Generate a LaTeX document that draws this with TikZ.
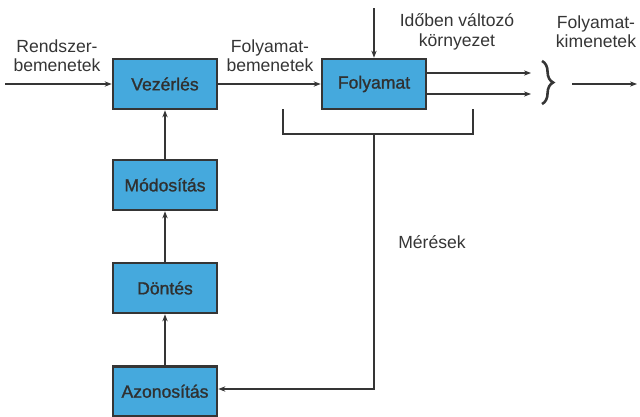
\documentclass[tikz,border=0pt]{standalone}
\usepackage{fontspec}
\setmainfont{Liberation Sans}
\newfontfamily\boxfont[FakeBold=1.2]{Liberation Sans}
\usetikzlibrary{arrows.meta,decorations.pathreplacing}
\definecolor{boxblue}{HTML}{45A9DD}
\definecolor{ink}{HTML}{353535}
\begin{document}
\begin{tikzpicture}[x=0.03cm,y=-0.03cm,
  blk/.style={draw=ink,line width=2.2pt,fill=boxblue,minimum width=3.12cm,minimum height=1.5cm,inner sep=0pt,font=\boxfont\fontsize{15}{17}\selectfont,text=ink!90!black},
  lbl/.style={align=center,font=\fontsize{15}{16.5}\selectfont,text=ink,inner sep=0pt},
  conn/.style={draw=ink,line width=1.4pt},
  arr/.style={conn,-{Stealth[length=6pt,width=4.5pt]}}]
\useasboundingbox (0,0) rectangle (640,416);
\node[blk] (vez) at (165,84) {Vezérlés};
\node[blk] (fol) at (374,84) {Folyamat};
\node[blk] (mod) at (165,185) {Módosítás};
\node[blk] (don) at (165,288) {Döntés};
\node[blk,anchor=north] (azo) at (165,365) {Azonosítás};
\coordinate (in) at (5,84);
\coordinate (top) at (374,8);
\coordinate (o1) at (531,73);
\coordinate (o2) at (531,94);
\coordinate (b1) at (283,109);
\coordinate (b2) at (283,134);
\coordinate (b3) at (473,134);
\coordinate (b4) at (473,109);
\coordinate (stem) at (374,134);
\coordinate (corner) at (374,389);
\coordinate (oa) at (572,84);
\coordinate (ob) at (637,84);
\draw[arr] (in) -- (vez.west);
\draw[arr] (vez.east) -- (fol.west);
\draw[arr] (top) -- (fol.north);
\draw[arr] (fol.east |- o1) -- (o1);
\draw[arr] (fol.east |- o2) -- (o2);
\draw[conn] (b1) -- (b2) -- (b3) -- (b4);
\draw[arr] (stem) -- (corner) -- (azo.east |- corner);
\draw[arr] (azo.north) -- (don.south);
\draw[arr] (don.north) -- (mod.south);
\draw[arr] (mod.north) -- (vez.south);
\draw[conn,line width=2.2pt,decorate,decoration={brace,amplitude=9.5pt}] (542,61) -- (542,104);
\draw[arr] (oa) -- (ob);
\node[lbl] (l1) at (57,56) {Rendszer-\\bemenetek};
\node[lbl] (l2) at (270,56) {Folyamat-\\bemenetek};
\node[lbl] (l3) at (457,32) {Időben változó\\környezet};
\node[lbl] (l4) at (596,32) {Folyamat-\\kimenetek};
\node[lbl] (l5) at (432,242) {Mérések};
\end{tikzpicture}
\end{document}
